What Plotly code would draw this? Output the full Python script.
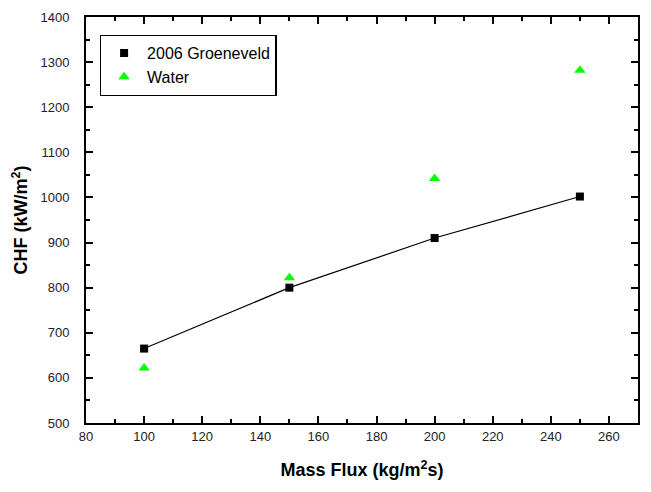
import plotly.graph_objects as go

mass_flux = [100, 150, 200, 250]
chf_groeneveld = [665, 800, 910, 1002]
chf_water = [622, 822, 1042, 1282]

fig = go.Figure()
fig.add_trace(go.Scatter(
    x=mass_flux, y=chf_groeneveld, mode="lines", name="2006 Groeneveld",
    line=dict(color="black", width=1.2), showlegend=False, hoverinfo="skip",
))
fig.add_trace(go.Scatter(
    x=mass_flux, y=chf_groeneveld, mode="markers", name="2006 Groeneveld",
    marker=dict(symbol="square", size=8, color="black"),
))
fig.add_trace(go.Scatter(
    x=mass_flux, y=chf_water, mode="markers", name="Water",
    marker=dict(symbol="triangle-up", size=10, color="#00ff00"),
))

tick_font = dict(family="Liberation Sans Narrow, Liberation Sans, Arial", size=13, color="#222")
axis_common = dict(
    showline=True, linecolor="black", linewidth=2, mirror="ticks",
    ticks="inside", ticklen=7, tickwidth=2, tickcolor="black",
    showgrid=False, zeroline=False, automargin=False,
    tickfont=tick_font,
)

fig.update_layout(
    width=635, height=476,
    margin=dict(l=78, r=5, t=9, b=61),
    paper_bgcolor="white", plot_bgcolor="white",
    font=dict(family="Liberation Sans, Arial", color="black"),
    xaxis=dict(range=[80, 270], dtick=20,
               minor=dict(dtick=10, ticks="inside", ticklen=4, tickwidth=2, tickcolor="black"),
               title=dict(text="<b>Mass Flux (kg/m<sup>2</sup>s)</b>", font=dict(size=18), standoff=21),
               **axis_common),
    yaxis=dict(range=[500, 1400], dtick=100,
               minor=dict(dtick=50, ticks="inside", ticklen=4, tickwidth=2, tickcolor="black"),
               ticklabelstandoff=12,
               title=dict(text="<b>CHF (kW/m<sup>2</sup>)</b>", font=dict(size=18), standoff=8),
               **axis_common),
    legend=dict(x=0.025, y=0.956, xanchor="left", yanchor="top",
                bordercolor="black", borderwidth=1.3, bgcolor="white",
                font=dict(size=16, family="Liberation Sans, Arial"),
                tracegroupgap=0, itemwidth=36, entrywidth=180),
    showlegend=True,
)

fig.write_html("out.html")
